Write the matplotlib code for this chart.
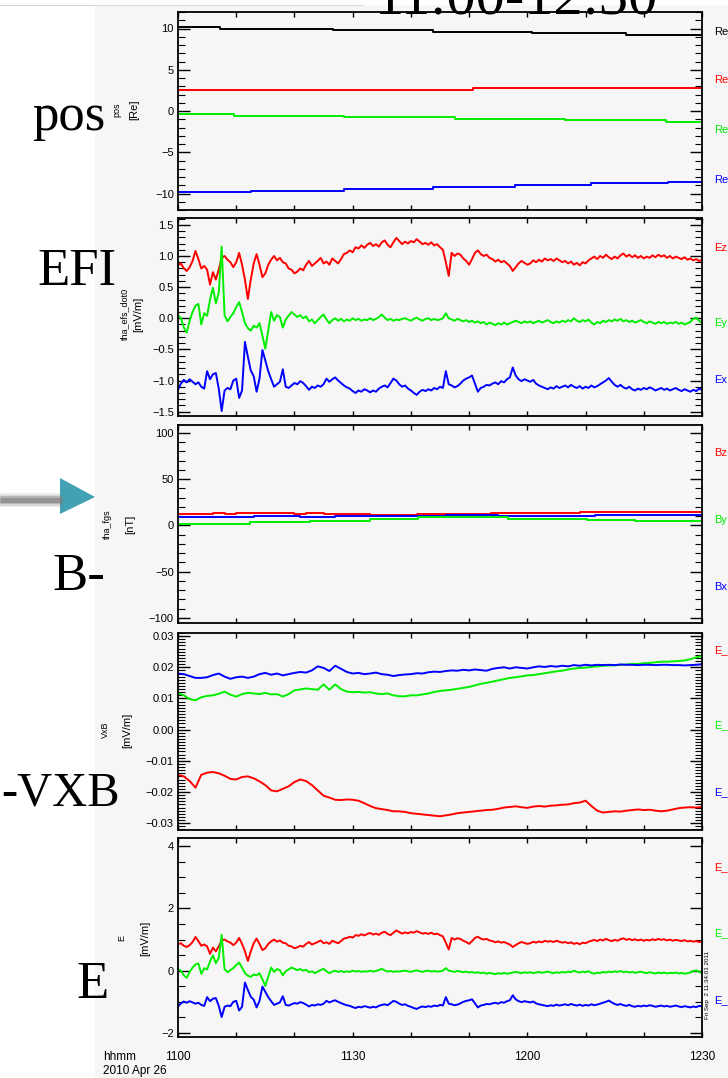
import numpy as np
import matplotlib
matplotlib.use("Agg")
import matplotlib.pyplot as plt
from matplotlib.ticker import MultipleLocator, FuncFormatter
from matplotlib.patches import Rectangle, Polygon
from matplotlib.lines import Line2D

plt.rcParams['font.family'] = ['Liberation Sans', 'DejaVu Sans']

W, H = 728, 1078
BG = '#f6f6f6'

# ---------------------------------------------------------------- data
# time: minutes after 11:00 UT, 2010 Apr 26
time_ticks = [0, 30, 60, 90]
time_labels = ["1100", "1130", "1200", "1230"]

# spacecraft position [Re] (piecewise constant: start minute, value)
pos_black_t = [0, 7.2, 26.7, 43.8, 60.8, 77.0]
pos_black_v = [10.2, 9.96, 9.76, 9.55, 9.40, 9.20]
pos_red_t = [0, 50.6]
pos_red_v = [2.6, 2.8]
pos_green_t = [0, 9.6, 28.5, 47.6, 66.5, 83.8]
pos_green_v = [-0.36, -0.60, -0.76, -0.92, -1.12, -1.36]
pos_blue_t = [0, 12.5, 28.5, 43.8, 57.8, 71.0, 84.2]
pos_blue_v = [-9.84, -9.64, -9.40, -9.20, -8.96, -8.76, -8.55]

# electric field [mV/m], 30 s samples from 11:00 to 12:30
efi_ez = [
    0.85, 0.88, 0.80, 0.76, 0.82, 0.92, 1.08, 0.95, 0.80, 0.84,
    0.78, 0.54, 0.74, 0.62, 0.78, 0.97, 1.00, 0.94, 0.90, 0.82,
    0.90, 1.05, 0.86, 0.62, 0.31, 0.62, 0.88, 1.03, 0.86, 0.66,
    0.72, 0.86, 0.94, 1.00, 0.93, 0.97, 0.90, 0.88, 0.80, 0.78,
    0.72, 0.75, 0.80, 0.77, 0.86, 0.92, 0.84, 0.88, 0.92, 0.97,
    0.88, 0.91, 0.86, 0.96, 0.92, 0.88, 0.95, 1.03, 1.05, 1.09,
    1.06, 1.14, 1.12, 1.17, 1.13, 1.18, 1.21, 1.16, 1.19, 1.15,
    1.22, 1.25, 1.18, 1.14, 1.22, 1.29, 1.24, 1.19, 1.23, 1.20,
    1.24, 1.22, 1.27, 1.23, 1.19, 1.21, 1.18, 1.22, 1.17, 1.19,
    1.14, 1.10, 0.90, 0.68, 1.05, 1.00, 1.04, 1.02, 0.96, 0.92,
    0.86, 0.95, 1.05, 1.09, 1.03, 1.00, 1.02, 0.97, 0.95, 0.91,
    0.94, 0.90, 0.92, 0.88, 0.84, 0.76, 0.82, 0.88, 0.92, 0.89,
    0.86, 0.88, 0.93, 0.90, 0.94, 0.91, 0.96, 0.93, 0.95, 0.92,
    0.96, 0.93, 0.90, 0.92, 0.88, 0.91, 0.86, 0.89, 0.85, 0.90,
    0.88, 0.93, 0.96, 0.99, 0.95, 1.00, 0.97, 1.02, 0.98, 0.95,
    0.99, 0.96, 1.01, 1.04, 0.99, 1.02, 0.98, 1.01, 0.97, 1.00,
    0.96, 0.99, 0.97, 1.01, 0.98, 1.02, 0.99, 1.01, 0.97, 1.00,
    0.96, 0.99, 0.97, 0.95, 0.98, 0.94, 0.96, 0.93, 0.95, 0.92,
    0.94]
efi_ey = [
    0.05, 0.00, -0.15, -0.23, -0.04, 0.10, 0.20, 0.23, -0.10, 0.08,
    0.04, 0.30, 0.49, 0.24, 0.41, 1.15, 0.05, -0.05, 0.02, 0.08,
    0.18, 0.26, 0.10, -0.08, -0.16, -0.20, -0.12, -0.15, -0.08, -0.28,
    -0.49, -0.20, 0.10, -0.04, 0.05, 0.02, -0.15, -0.02, 0.04, 0.10,
    0.06, 0.02, 0.05, 0.00, 0.03, -0.05, -0.02, -0.08, -0.03, 0.02,
    0.06, -0.02, -0.08, -0.03, 0.00, -0.04, -0.01, -0.05, -0.02, -0.04,
    0.00, -0.03, -0.01, -0.04, -0.02, -0.03, 0.00, -0.03, -0.01, 0.02,
    0.06, 0.01, -0.03, -0.01, -0.04, -0.02, -0.03, -0.01, 0.00, -0.02,
    -0.04, -0.01, 0.01, -0.02, -0.04, -0.01, 0.00, -0.03, -0.01, -0.03,
    -0.02, 0.00, 0.08, 0.00, -0.02, -0.04, -0.01, -0.03, -0.05, -0.03,
    -0.06, -0.04, -0.07, -0.05, -0.08, -0.06, -0.10, -0.07, -0.09, -0.11,
    -0.08, -0.10, -0.07, -0.10, -0.08, -0.06, -0.04, -0.06, -0.08, -0.05,
    -0.07, -0.05, -0.08, -0.06, -0.04, -0.07, -0.05, -0.03, -0.06, -0.08,
    -0.05, -0.07, -0.04, -0.06, -0.03, -0.05, 0.00, -0.04, -0.06, -0.03,
    -0.05, -0.02, -0.07, -0.10, -0.06, -0.08, -0.04, -0.06, -0.03, -0.05,
    -0.02, -0.04, -0.01, -0.05, -0.03, -0.06, -0.04, -0.07, -0.05, -0.03,
    -0.06, -0.08, -0.05, -0.07, -0.09, -0.06, -0.08, -0.06, -0.09, -0.07,
    -0.08, -0.06, -0.09, -0.07, -0.10, -0.08, -0.06, -0.01, 0.01, -0.04,
    -0.08]
efi_ex = [
    -1.15, -1.05, -0.99, -1.03, -0.98, -1.02, -1.06, -1.03, -1.10, -1.13,
    -0.85, -0.98, -0.90, -0.88, -1.13, -1.49, -1.16, -1.12, -1.14, -1.00,
    -0.97, -1.28, -1.16, -0.38, -0.62, -0.84, -0.93, -1.18, -0.97, -0.51,
    -0.68, -0.85, -0.98, -1.10, -1.06, -1.02, -0.82, -1.10, -1.12, -1.08,
    -1.04, -1.06, -1.01, -1.04, -1.09, -1.15, -1.10, -1.12, -1.08, -1.10,
    -1.06, -0.97, -1.02, -0.98, -0.95, -1.00, -1.04, -1.08, -1.11, -1.13,
    -1.17, -1.20, -1.16, -1.18, -1.14, -1.16, -1.19, -1.16, -1.18, -1.13,
    -1.10, -1.08, -1.11, -1.04, -0.97, -1.00, -1.06, -1.10, -1.08, -1.13,
    -1.16, -1.20, -1.23, -1.18, -1.15, -1.17, -1.14, -1.16, -1.12, -1.14,
    -1.10, -1.12, -0.85, -1.06, -1.08, -1.11, -1.09, -1.05, -1.00, -0.97,
    -0.95, -0.92, -1.05, -1.18, -1.12, -1.10, -1.07, -1.08, -1.05, -1.03,
    -1.06, -1.01, -1.03, -0.98, -0.95, -0.79, -0.92, -0.98, -1.01, -0.98,
    -1.00, -1.02, -0.99, -1.05, -1.08, -1.10, -1.12, -1.14, -1.11, -1.13,
    -1.09, -1.12, -1.10, -1.08, -1.11, -1.07, -1.10, -1.12, -1.09, -1.13,
    -1.10, -1.12, -1.08, -1.11, -1.09, -1.06, -1.03, -1.00, -0.96, -1.02,
    -1.07, -1.10, -1.07, -1.11, -1.13, -1.10, -1.14, -1.16, -1.13, -1.15,
    -1.12, -1.14, -1.11, -1.13, -1.16, -1.14, -1.12, -1.15, -1.13, -1.16,
    -1.14, -1.12, -1.15, -1.17, -1.14, -1.16, -1.18, -1.15, -1.17, -1.13,
    -1.15]

# magnetic field [nT] (piecewise constant: start minute, value)
fgs_bz_t = [0, 6, 8, 10, 20, 22, 25, 30, 33, 41, 53.8, 69]
fgs_bz_v = [12.3, 13.5, 12.5, 13.2, 12.6, 13.4, 12.4, 12.6, 11.2, 12.3, 13.7, 14.7]
fgs_by_t = [0, 12.4, 22.7, 32.9, 41.2, 56.6, 70.2, 78.5]
fgs_by_v = [2.0, 3.7, 5.0, 7.0, 8.7, 7.0, 5.7, 4.7]
fgs_bx_t = [0, 13, 21, 27, 33, 46, 55, 71.6]
fgs_bx_v = [9.0, 10.0, 9.5, 10.3, 10.7, 10.8, 10.2, 11.3]

# -V x B [mV/m], 1 min samples from 11:00 to 12:30
vxb_x = [
    -0.0145, -0.0150, -0.0165, -0.0186, -0.0145, -0.0138, -0.0136, -0.0140, -0.0148, -0.0158,
    -0.0160, -0.0152, -0.0150, -0.0156, -0.0166, -0.0178, -0.0195, -0.0198, -0.0190, -0.0182,
    -0.0168, -0.0160, -0.0165, -0.0178, -0.0195, -0.0212, -0.0218, -0.0225, -0.0226, -0.0224,
    -0.0225, -0.0228, -0.0236, -0.0245, -0.0252, -0.0255, -0.0258, -0.0262, -0.0262, -0.0264,
    -0.0268, -0.0270, -0.0272, -0.0274, -0.0276, -0.0278, -0.0275, -0.0272, -0.0268, -0.0266,
    -0.0264, -0.0262, -0.0260, -0.0258, -0.0257, -0.0254, -0.0250, -0.0248, -0.0246, -0.0249,
    -0.0251, -0.0247, -0.0245, -0.0247, -0.0244, -0.0243, -0.0241, -0.0240, -0.0236, -0.0234,
    -0.0228, -0.0245, -0.0260, -0.0266, -0.0264, -0.0262, -0.0263, -0.0260, -0.0258, -0.0256,
    -0.0258, -0.0257, -0.0260, -0.0262, -0.0260, -0.0256, -0.0252, -0.0250, -0.0249, -0.0250,
    -0.0248]
vxb_y = [
    0.0117, 0.0110, 0.0098, 0.0094, 0.0104, 0.0108, 0.0110, 0.0115, 0.0122, 0.0112,
    0.0106, 0.0114, 0.0118, 0.0116, 0.0114, 0.0118, 0.0113, 0.0114, 0.0106, 0.0114,
    0.0126, 0.0129, 0.0132, 0.0130, 0.0128, 0.0145, 0.0128, 0.0145, 0.0130, 0.0122,
    0.0120, 0.0121, 0.0119, 0.0120, 0.0116, 0.0114, 0.0116, 0.0110, 0.0107, 0.0107,
    0.0110, 0.0110, 0.0113, 0.0116, 0.0121, 0.0124, 0.0126, 0.0128, 0.0131, 0.0134,
    0.0137, 0.0142, 0.0147, 0.0150, 0.0154, 0.0158, 0.0162, 0.0166, 0.0168, 0.0171,
    0.0174, 0.0175, 0.0178, 0.0181, 0.0184, 0.0187, 0.0189, 0.0193, 0.0196, 0.0198,
    0.0199, 0.0201, 0.0203, 0.0205, 0.0206, 0.0206, 0.0208, 0.0209, 0.0211, 0.0211,
    0.0213, 0.0214, 0.0216, 0.0218, 0.0218, 0.0219, 0.0220, 0.0222, 0.0226, 0.0232,
    0.0236]
vxb_z = [
    0.0180, 0.0178, 0.0172, 0.0166, 0.0166, 0.0168, 0.0175, 0.0180, 0.0170, 0.0163,
    0.0168, 0.0170, 0.0166, 0.0170, 0.0178, 0.0182, 0.0176, 0.0180, 0.0174, 0.0178,
    0.0182, 0.0185, 0.0183, 0.0190, 0.0203, 0.0198, 0.0188, 0.0205, 0.0195, 0.0185,
    0.0180, 0.0182, 0.0178, 0.0180, 0.0183, 0.0178, 0.0176, 0.0172, 0.0175, 0.0177,
    0.0178, 0.0181, 0.0180, 0.0184, 0.0186, 0.0185, 0.0188, 0.0190, 0.0189, 0.0192,
    0.0190, 0.0193, 0.0191, 0.0189, 0.0195, 0.0198, 0.0200, 0.0196, 0.0200, 0.0198,
    0.0196, 0.0200, 0.0203, 0.0201, 0.0204, 0.0202, 0.0205, 0.0203, 0.0207, 0.0205,
    0.0208, 0.0206, 0.0208, 0.0207, 0.0208, 0.0207, 0.0209, 0.0208, 0.0208, 0.0207,
    0.0208, 0.0208, 0.0207, 0.0208, 0.0208, 0.0207, 0.0207, 0.0206, 0.0207, 0.0208,
    0.0210]

RED, GREEN, BLUE, BLACK = '#ff0000', '#00ee00', '#0000ff', '#000000'

# ---------------------------------------------------------------- figure
fig = plt.figure(figsize=(W / 100, H / 100), dpi=100, facecolor='white')


def fx(x):
    return x / W


def fy(y):
    return 1 - y / H


# light grey page area behind the plots
fig.patches.append(Rectangle((fx(95), 0), 1 - fx(95), fy(5), transform=fig.transFigure,
                             facecolor=BG, edgecolor='none', zorder=-5))
fig.lines.append(Line2D([0, fx(362)], [fy(5), fy(5)], transform=fig.transFigure,
                        color='#d8d8d8', lw=0.8, zorder=-4))

LEFT, RIGHT = 178, 702


def minus(s):
    return s.replace('-', '\u2212')


def add_panel(top, bottom, ylim, major, minor, fmt):
    ax = fig.add_axes([fx(LEFT), fy(bottom), (RIGHT - LEFT) / W, (bottom - top) / H])
    ax.set_zorder(2)
    ax.set_facecolor(BG)
    ax.set_xlim(0, 90)
    ax.set_ylim(*ylim)
    ax.xaxis.set_major_locator(MultipleLocator(10))
    ax.yaxis.set_major_locator(MultipleLocator(major))
    ax.yaxis.set_minor_locator(MultipleLocator(minor))
    ax.tick_params(axis='y', which='major', direction='in', length=8.5, width=1.0,
                   left=True, right=True, labelsize=8, pad=3)
    ax.tick_params(axis='y', which='minor', direction='in', length=5, width=0.8,
                   left=True, right=True)
    ax.tick_params(axis='x', which='major', direction='in', length=3.5, width=1.0,
                   top=True, bottom=True, labelbottom=False)
    ax.yaxis.set_major_formatter(FuncFormatter(lambda v, _: minus(fmt.format(v + 0.0))))
    for s in ax.spines.values():
        s.set_linewidth(1.3)
    return ax


def steps(ax, t, v, color):
    tt = list(t) + [90]
    vv = list(v) + [v[-1]]
    ax.plot(tt, vv, drawstyle='steps-post', color=color, lw=1.4)


def side_label(y, text, color):
    fig.text(fx(714), fy(y), text, color=color, fontsize=8, va='center', ha='left')


def axis_title(x1, x2, y, top, bottom):
    fig.text(fx(x1), fy(y), top, rotation=90, fontsize=6.5, ha='center', va='center')
    fig.text(fx(x2), fy(y), bottom, rotation=90, fontsize=8, ha='center', va='center')


# panel 1: position
ax1 = add_panel(12, 210, (-12, 12), 5, 1, '{:.0f}')
steps(ax1, pos_black_t, pos_black_v, BLACK)
steps(ax1, pos_red_t, pos_red_v, RED)
steps(ax1, pos_green_t, pos_green_v, GREEN)
steps(ax1, pos_blue_t, pos_blue_v, BLUE)
axis_title(117, 134, 110, 'pos', '[Re]')
for y, c in zip([32, 80, 130, 180], [BLACK, RED, GREEN, BLUE]):
    side_label(y, 'Re', c)

# panel 2: EFI
t_efi = np.linspace(0, 90, len(efi_ez))
ax2 = add_panel(218, 416, (-1.57, 1.61), 0.5, 0.1, '{:.1f}')
for data, c in [(efi_ez, RED), (efi_ey, GREEN), (efi_ex, BLUE)]:
    ax2.plot(t_efi, data, color=c, lw=1.4)
axis_title(125, 138, 314, 'tha_efs_dot0', '[mV/m]')
for y, txt, c in [(248, 'Ez', RED), (323, 'Ey', GREEN), (380, 'Ex', BLUE)]:
    side_label(y, txt, c)

# panel 3: FGM
ax3 = add_panel(425, 623, (-105.4, 108.6), 50, 10, '{:.0f}')
steps(ax3, fgs_bz_t, fgs_bz_v, RED)
steps(ax3, fgs_bx_t, fgs_bx_v, BLUE)
steps(ax3, fgs_by_t, fgs_by_v, GREEN)
axis_title(107, 130, 524, 'tha_fgs', '[nT]')
for y, txt, c in [(453, 'Bz', RED), (520, 'By', GREEN), (587, 'Bx', BLUE)]:
    side_label(y, txt, c)

# panel 4: -V x B
t_vxb = np.linspace(0, 90, len(vxb_x))
ax4 = add_panel(633, 830, (-0.0322, 0.031), 0.01, 0.001, '{:.2f}')
for data, c in [(vxb_x, RED), (vxb_y, GREEN), (vxb_z, BLUE)]:
    ax4.plot(t_vxb, data, color=c, lw=1.4)
axis_title(105, 127, 730, 'VxB', '[mV/m]')
for y, c in [(650, RED), (725, GREEN), (792, BLUE)]:
    side_label(y, 'E_', c)

# panel 5: E
ax5 = add_panel(838, 1037, (-2.13, 4.26), 2, 0.5, '{:.0f}')
for data, c in [(efi_ez, RED), (efi_ey, GREEN), (efi_ex, BLUE)]:
    ax5.plot(t_efi, data, color=c, lw=1.4)
axis_title(122, 145, 938, 'E', '[mV/m]')
for y, c in [(867, RED), (933, GREEN), (1000, BLUE)]:
    side_label(y, 'E_', c)

labels = dict(zip(time_ticks, time_labels))
ax5.xaxis.set_major_formatter(FuncFormatter(lambda v, _: labels.get(int(round(v)), '')))
ax5.tick_params(axis='x', labelbottom=True, labelsize=8.5, pad=10)

fig.text(fx(103), fy(1057), 'hhmm', fontsize=8.5, ha='left', va='center')
fig.text(fx(103), fy(1071), '2010 Apr 26', fontsize=8.5, ha='left', va='center')
fig.text(fx(707), fy(985), 'Fri Sep  2 11:34:01 2011', rotation=90, fontsize=4.5,
         ha='center', va='center', zorder=5)

# large serif annotations
SERIF = ['Liberation Serif', 'DejaVu Serif']
fig.text(fx(517), fy(13), '11:00-12:30', family=SERIF, fontsize=42, ha='center', va='baseline')
for x, y, txt, size in [(32, 130, 'pos', 38), (37, 285, 'EFI', 38), (52, 590, 'B-', 38),
                        (1, 805, '-VXB', 35), (76, 998, 'E', 38)]:
    fig.text(fx(x), fy(y), txt, family=SERIF, fontsize=size, ha='left', va='baseline')

# pointer arrow next to the field panel
for lw, a in [(14, 0.12), (11, 0.2), (8, 0.35), (5, 0.55)]:
    fig.lines.append(Line2D([0, fx(62)], [fy(500), fy(500)], transform=fig.transFigure,
                            color='#7a7a7a', lw=lw * 0.72, alpha=a, solid_capstyle='butt'))
fig.patches.append(Polygon([(fx(60), fy(478)), (fx(60), fy(514)), (fx(95), fy(497))],
                           closed=True, transform=fig.transFigure,
                           facecolor='#42a2b4', edgecolor='none'))

fig.savefig('out.png', dpi=100, facecolor='white')
